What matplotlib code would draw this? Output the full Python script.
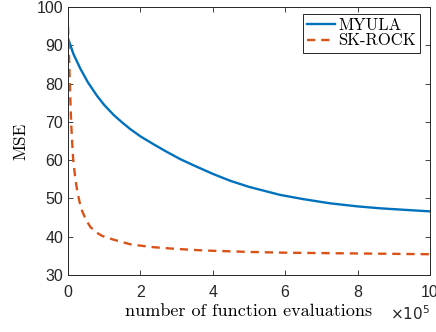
import matplotlib
matplotlib.use("Agg")
import matplotlib.pyplot as plt

# function evaluations (in units of 1e5) and MSE
myula_evals = [0, 0.15, 0.34, 0.55, 0.8, 1.0, 1.26, 1.5, 1.72, 2.0, 2.37, 2.7, 3.09,
               3.5, 4.0, 4.48, 5.0, 5.86, 6.5, 7.24, 8.0, 8.62, 9.3, 10.0]
myula_mse = [91.8, 87.7, 83.9, 80.3, 76.8, 74.4, 71.8, 69.8, 68.1, 66.2, 64.1, 62.3, 60.3,
             58.5, 56.4, 54.6, 53.0, 50.9, 49.8, 48.7, 47.9, 47.4, 47.0, 46.6]

skrock_evals = [0, 0.03, 0.06, 0.09, 0.14, 0.2, 0.25, 0.32, 0.39, 0.5, 0.62, 0.8, 0.94,
                1.26, 1.72, 2.28, 2.83, 3.5, 4.0, 5.0, 6.0, 7.0, 8.0, 9.0, 10.0]
skrock_mse = [94.9, 86.0, 77.0, 69.0, 60.5, 55.3, 52.2, 49.0, 46.7, 44.3, 42.5, 41.0, 40.2,
              39.2, 38.0, 37.3, 36.9, 36.5, 36.3, 36.0, 35.8, 35.7, 35.6, 35.5, 35.4]

xticks = [0, 2, 4, 6, 8, 10]
yticks = [30, 40, 50, 60, 70, 80, 90, 100]

plt.rcParams['font.family'] = ['Liberation Sans', 'DejaVu Sans']

fig = plt.figure(figsize=(4.36, 3.32), dpi=100)
ax = fig.add_axes([0.156, 0.172, 0.830, 0.807])

ax.plot(myula_evals, myula_mse, color='#0072BD', linewidth=1.7, label='MYULA')
ax.plot(skrock_evals, skrock_mse, color='#D95319', linewidth=1.7, linestyle=(0, (3.5, 2.5)),
        label='SK-ROCK')

ax.set_xlim(0, 10)
ax.set_ylim(30, 100)
ax.set_xticks(xticks)
ax.set_yticks(yticks)

ax.tick_params(direction='in', top=True, right=True, length=3.5, width=0.6,
               colors='#262626', labelsize=11.5)
ax.tick_params(axis='x', pad=7)
for s in ax.spines.values():
    s.set_color('#262626')
    s.set_linewidth(0.7)

ax.set_xlabel('number of function evaluations', family='cmr10', fontsize=13, labelpad=3)
ax.set_ylabel('MSE', family='cmr10', fontsize=12.5, labelpad=6)

# MATLAB-style exponent label under the right end of the x axis
ax.text(1.0, -0.145, r'$\times10^5$', transform=ax.transAxes, ha='right', va='center',
        fontsize=11, color='#262626', math_fontfamily='dejavusans')

leg = ax.legend(loc='upper right', bbox_to_anchor=(0.972, 0.975),
                prop={'family': 'cmr10', 'size': 12}, fancybox=False,
                edgecolor='#262626', framealpha=1, handlelength=1.7, handletextpad=0.15,
                borderpad=0.25, labelspacing=0.0, borderaxespad=0)
leg.get_frame().set_linewidth(0.7)

fig.savefig('out.png', dpi=100)
